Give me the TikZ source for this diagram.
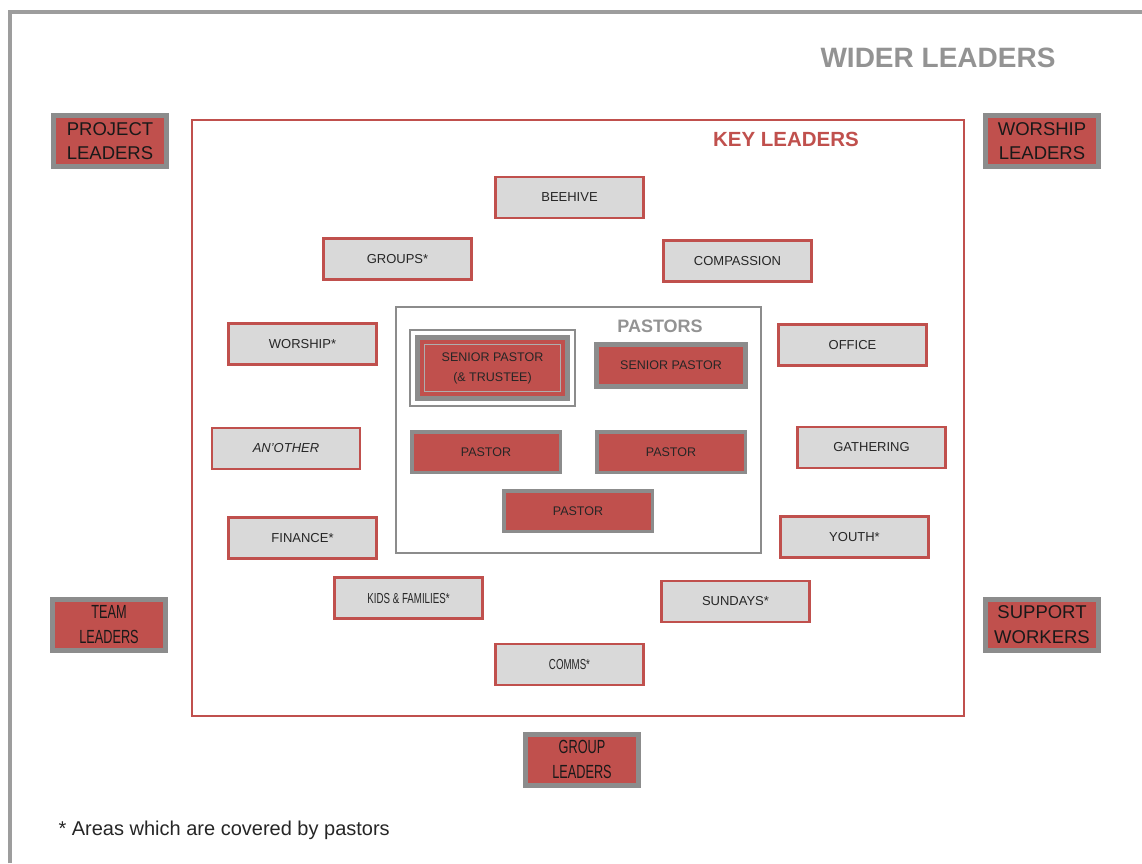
\documentclass[tikz,border=0pt]{standalone}
\usepackage{fontspec}
\setmainfont{Liberation Sans}
\newfontfamily\narrowfont[FakeStretch=0.67]{Liberation Sans}
\definecolor{keyred}{HTML}{C0504D}
\definecolor{boxgrey}{HTML}{D9D9D9}
\definecolor{edgegrey}{HTML}{8C8C8C}
\definecolor{titlegrey}{HTML}{939393}
\definecolor{inktext}{HTML}{262626}

\begin{document}
\begin{tikzpicture}[x=1pt, y=-1pt,
    area/.style = {draw=keyred, line width=2.5pt, fill=boxgrey, minimum width=148pt, minimum height=41pt, inner sep=0pt, text=inktext, font=\fontsize{13}{15}\selectfont},
    wider/.style = {draw=edgegrey, line width=5pt, fill=keyred, minimum width=113pt, minimum height=51pt, inner sep=0pt, align=center, text=black!90, font=\fontsize{18.5}{24.5}\selectfont},
    pastor/.style = {draw=edgegrey, line width=3.5pt, fill=keyred, minimum width=148.5pt, minimum height=40.5pt, inner sep=0pt, align=center, text=black!85, font=\fontsize{12.5}{20}\selectfont}]
    \useasboundingbox (0,0) rectangle (1142,863);
    % frames
    \draw[edgegrey!85, line width=3.5pt] (10,863) -- (10,12) -- (1142,12);
    \draw[keyred, line width=2.5pt] (192,120) rectangle (964,716);
    \draw[edgegrey, line width=2.5pt] (396,307) rectangle (761,553);
    \node[text=titlegrey, font=\fontsize{28}{30}\selectfont\bfseries] (wtitle) at (938,58) {WIDER LEADERS};
    \node[text=keyred, font=\fontsize{20.5}{22}\selectfont\bfseries] (ktitle) at (786,139) {KEY LEADERS};
    \node[text=titlegrey, font=\fontsize{18}{20}\selectfont\bfseries] (ptitle) at (660,326) {PASTORS};
    % wider leaders
    \node[wider] (project) at (110,141) {PROJECT\\LEADERS};
    \node[wider] (worshipL) at (1042,141) {WORSHIP\\LEADERS};
    \node[wider, font=\fontsize{19}{24.5}\narrowfont] (team) at (109,624.5) {TEAM\\LEADERS};
    \node[wider] (support) at (1042,624.5) {SUPPORT\\WORKERS};
    \node[wider, font=\fontsize{19}{24.5}\narrowfont] (group) at (582,759.5) {GROUP\\LEADERS};
    % key leaders
    \node[area] (beehive) at (569.5,197.5) {BEEHIVE};
    \node[area] (groups) at (397.5,259) {GROUPS*};
    \node[area] (compassion) at (737.5,261) {COMPASSION};
    \node[area] (worship) at (302.5,344) {WORSHIP*};
    \node[area] (office) at (852.5,345) {OFFICE};
    \node[area, font=\fontsize{13}{15}\selectfont\itshape] (another) at (286,448.5) {AN'OTHER};
    \node[area] (gathering) at (871.5,447.5) {GATHERING};
    \node[area] (finance) at (302.5,538) {FINANCE*};
    \node[area] (youth) at (854.5,537) {YOUTH*};
    \node[area, font=\fontsize{14.5}{15}\narrowfont] (kids) at (408.5,598) {KIDS \& FAMILIES*};
    \node[area] (sundays) at (735.5,601.5) {SUNDAYS*};
    \node[area, font=\fontsize{14.5}{15}\narrowfont] (comms) at (569.5,664.5) {COMMS*};
    % pastors
    \node[pastor, line width=5pt, minimum width=150pt, minimum height=61pt] (srtrustee) at (492.5,368) {SENIOR PASTOR\\(\& TRUSTEE)};
    \draw[edgegrey, line width=1.5pt] ([shift={(-5,-5)}]srtrustee.north west) rectangle ([shift={(5,5)}]srtrustee.south east);
    \draw[edgegrey!70, line width=1.2pt] ([shift={(9.5,9.5)}]srtrustee.north west) rectangle ([shift={(-9.5,-9.5)}]srtrustee.south east);
    \node[pastor, line width=5pt, minimum width=149pt, minimum height=42pt] (senior) at (671,365.5) {SENIOR PASTOR};
    \node[pastor] (pastorA) at (486,452) {PASTOR};
    \node[pastor] (pastorB) at (671,452) {PASTOR};
    \node[pastor] (pastorC) at (578,511) {PASTOR};
    % note
    \node[anchor=west, text=inktext, font=\fontsize{20}{22}\selectfont] (note) at (55,830) {* Areas which are covered by pastors};
\end{tikzpicture}
\end{document}
